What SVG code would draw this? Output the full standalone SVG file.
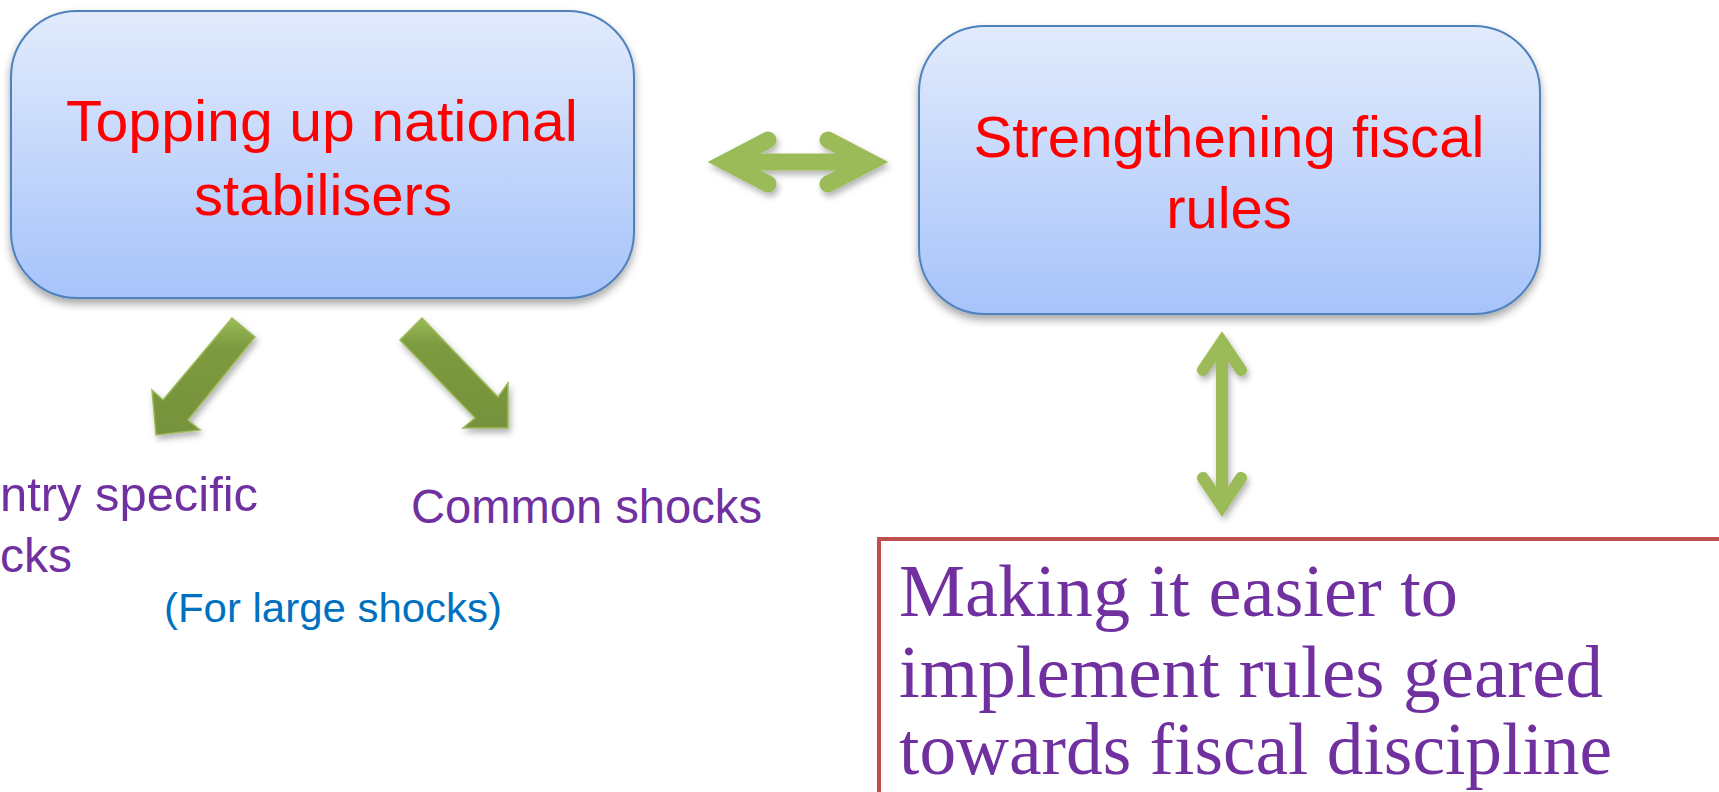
<svg xmlns="http://www.w3.org/2000/svg" width="1719" height="792" viewBox="0 0 1719 792">
<style>
.box{stroke:#4f81bd;stroke-width:2;fill:url(#boxg);filter:url(#sh)}
.red{font-family:"Liberation Sans",Arial,sans-serif;font-size:58px;fill:#ff0000;text-anchor:middle}
.pur{font-family:"Liberation Sans",Arial,sans-serif;font-size:48px;fill:#7030a0}
.blu{font-family:"Liberation Sans",Arial,sans-serif;font-size:40px;fill:#0070c0}
.ser{font-family:"Liberation Serif","Times New Roman",serif;font-size:74px;fill:#7030a0}
.dbl{fill:none;stroke:#9bbb59;stroke-linejoin:miter;stroke-miterlimit:10;stroke-linecap:round;filter:url(#sh2)}
.blk{fill:url(#ag);stroke:#9bbb59;stroke-width:1.5;filter:url(#sh2)}
</style>
<defs>
<linearGradient id="boxg" x1="0" y1="0" x2="0" y2="1">
<stop offset="0" stop-color="#e2ebfc"/>
<stop offset="1" stop-color="#a6c3fa"/>
</linearGradient>
<linearGradient id="ag" x1="0" y1="0" x2="0" y2="1">
<stop offset="0" stop-color="#9bbb59"/>
<stop offset="0.25" stop-color="#7c9a3f"/>
<stop offset="1" stop-color="#76923c"/>
</linearGradient>
<filter id="sh" x="-10%" y="-10%" width="120%" height="130%">
<feDropShadow dx="0" dy="5" stdDeviation="4" flood-color="#000" flood-opacity="0.35"/>
</filter>
<filter id="sh2" x="-50%" y="-50%" width="200%" height="200%">
<feDropShadow dx="2" dy="4" stdDeviation="3" flood-color="#000" flood-opacity="0.3"/>
</filter>
</defs>
<rect width="1719" height="792" fill="#ffffff"/>
<g id="connectors">
<path class="dbl" stroke-width="17" d="M768,140 L726,162 L768,184 M726,162 L870,162 M828,140 L870,162 L828,184"/>
<path class="dbl" stroke-width="12" d="M1203,370 L1222,342 L1241,370 M1222,342 L1222,506 M1203,478 L1222,506 L1241,478"/>
<polygon class="blk" points="232,318 255,337 188,420 200,430 156,435 152,390 163,400"/>
<polygon class="blk" points="400,340 422,318 498,397 508,383 508,428 463,428 475,418"/>
</g>
<g id="node-topping">
<rect class="box" x="11" y="11" width="623" height="287" rx="66"/>
<text class="red" x="322" y="141" textLength="512" lengthAdjust="spacingAndGlyphs">Topping up national</text>
<text class="red" x="323" y="215">stabilisers</text>
</g>
<g id="node-strengthening">
<rect class="box" x="919" y="26" width="621" height="288" rx="66"/>
<text class="red" x="1229" y="157" textLength="511" lengthAdjust="spacingAndGlyphs">Strengthening fiscal</text>
<text class="red" x="1229" y="228">rules</text>
</g>
<g id="node-country">
<text class="pur" x="0" y="511" textLength="258" lengthAdjust="spacingAndGlyphs">ntry specific</text>
<text class="pur" x="0" y="572">cks</text>
</g>
<g id="node-common">
<text class="pur" x="411" y="523" textLength="351" lengthAdjust="spacingAndGlyphs">Common shocks</text>
</g>
<g id="note-large">
<text class="blu" x="164" y="622" textLength="338" lengthAdjust="spacingAndGlyphs">(For large shocks)</text>
</g>
<g id="node-making">
<rect x="879" y="539" width="900" height="300" fill="#ffffff" stroke="#c0504d" stroke-width="4"/>
<text class="ser" x="899" y="616" textLength="559" lengthAdjust="spacingAndGlyphs">Making it easier to</text>
<text class="ser" x="899" y="697" textLength="704" lengthAdjust="spacingAndGlyphs">implement rules geared</text>
<text class="ser" x="899" y="774" textLength="713" lengthAdjust="spacingAndGlyphs">towards fiscal discipline</text>
</g>
</svg>
